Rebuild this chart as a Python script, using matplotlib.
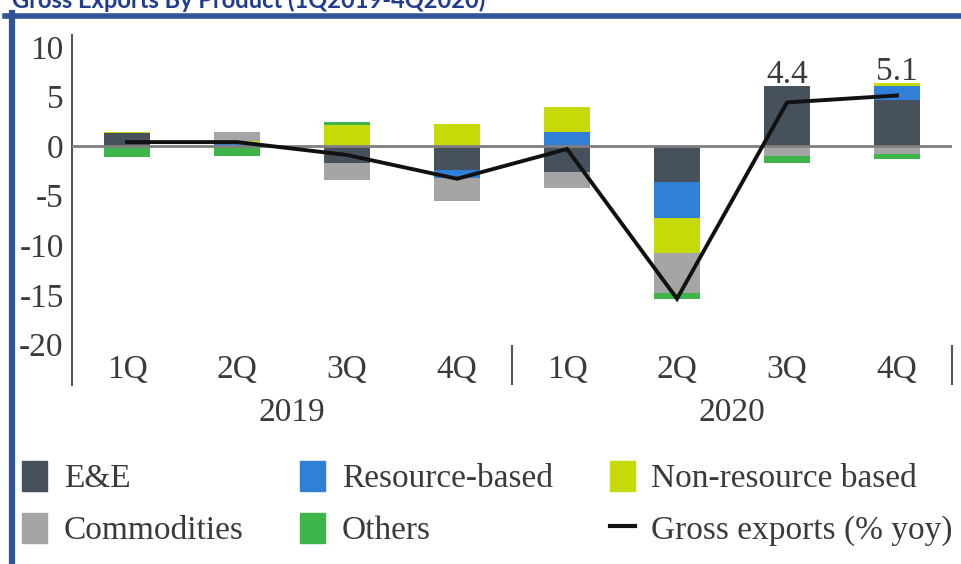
import numpy as np
import matplotlib
matplotlib.use("Agg")
import matplotlib.pyplot as plt
from matplotlib.patches import Patch
from matplotlib.lines import Line2D

plt.rcParams["axes.unicode_minus"] = False

# contributions to gross export growth (percentage points), 1Q2019 - 4Q2020
quarters = ["1Q", "2Q", "3Q", "4Q", "1Q", "2Q", "3Q", "4Q"]
years = ["2019", "2020"]
ee = [1.3, 0.0, -1.7, -2.4, -2.6, -3.6, 6.1, 4.6]
resource = [0.0, 0.2, 0.0, -0.8, 1.4, -3.7, 0.0, 1.5]
nonresource = [0.15, 0.3, 2.1, 2.2, 2.5, -3.5, 0.0, 0.3]
commodities = [0.0, 0.9, -1.7, -2.3, -1.6, -4.0, -1.0, -0.8]
others = [-1.1, -1.0, 0.3, 0.0, 0.0, -0.6, -0.7, -0.5]
gross = [0.4, 0.4, -0.9, -3.3, -0.3, -15.4, 4.4, 5.1]
labelled = [6, 7]

names = ["E&E", "Resource-based", "Non-resource based", "Commodities", "Others"]
colors = ["#46515c", "#2f80d6", "#c6da0a", "#a5a5a5", "#3db54a"]
series = [ee, resource, nonresource, commodities, others]

fs = 24
txt = "#3a3a3a"
serif = "Liberation Serif"

fig = plt.figure(figsize=(9.61, 5.64), dpi=100)
ax = fig.add_axes([72 / 961, 1 - 385 / 564, 880 / 961, 350 / 564])

x = np.arange(len(quarters))
pos = np.zeros(len(x))
neg = np.zeros(len(x))
for name, col, vals in zip(names, colors, series):
    v = np.array(vals)
    base = np.where(v >= 0, pos, neg)
    ax.bar(x, v, width=0.41, bottom=base, color=col, zorder=2)
    pos = pos + np.clip(v, 0, None)
    neg = neg + np.clip(v, None, 0)

ax.axhline(0, color="#7f7f7f", lw=2, zorder=3)
ax.plot(x, gross, color="#111111", lw=2.8, zorder=4, solid_joinstyle="miter")

for i in labelled:
    ax.annotate(f"{gross[i]:.1f}", (x[i], pos[i]), xytext=(0, -3),
                textcoords="offset points", ha="center", va="bottom",
                fontsize=fs, family=serif, color=txt)

ax.set_xlim(-0.5, 7.5)
ax.set_ylim(-24.1, 11.2)
ax.set_yticks([10, 5, 0, -5, -10, -15, -20])
ax.tick_params(axis="y", length=0, pad=6, labelsize=fs, labelcolor=txt)
for t in ax.get_yticklabels():
    t.set_family(serif)
ax.set_xticks([])
for s in ["top", "right", "bottom"]:
    ax.spines[s].set_visible(False)
ax.spines["left"].set_color("#555555")
ax.spines["left"].set_linewidth(1.5)

# quarter and year labels under the plot
for xi, q in zip(x, quarters):
    ax.text(xi, -22.6, q, ha="center", va="center", fontsize=fs,
            family=serif, color=txt)
for xi, yr in zip([1.5, 5.5], years):
    ax.text(xi, -26.9, yr, ha="center", va="center", fontsize=fs,
            family=serif, color=txt, clip_on=False)
ax.vlines([3.5, 7.5], -24.1, -20.1, color="#555555", lw=1.5, clip_on=False)

# legend, filled column by column
handles = [Patch(color=colors[0]), Patch(color=colors[3]),
           Patch(color=colors[1]), Patch(color=colors[4]),
           Patch(color=colors[2]),
           Line2D([], [], color="#111111", lw=3)]
labels = [names[0], names[3], names[1], names[4], names[2],
          "Gross exports (% yoy)"]
leg = fig.legend(handles, labels, ncol=3, loc="upper left",
                 bbox_to_anchor=(22 / 961, 1 - 461 / 564), frameon=False,
                 borderpad=0, borderaxespad=0, handlelength=0.75,
                 handleheight=1.0, handletextpad=0.5, columnspacing=1.7,
                 labelspacing=0.55, prop={"family": serif, "size": fs})
for t in leg.get_texts():
    t.set_color(txt)

# title and frame
fig.text(12 / 961, 1 - 8 / 564, "Gross Exports By Product (1Q2019-4Q2020)",
         ha="left", va="baseline", fontsize=17, fontweight="bold",
         family="Lato", color="#1f3c8f")
frame = "#2f5597"
fig.add_artist(Line2D([5 / 961, 1], [1 - 15.5 / 564, 1 - 15.5 / 564],
                      color=frame, lw=4, transform=fig.transFigure))
fig.add_artist(Line2D([12 / 961, 12 / 961], [0, 1 - 13 / 564],
                      color=frame, lw=4.5, transform=fig.transFigure))

fig.savefig("out.png", dpi=100)
